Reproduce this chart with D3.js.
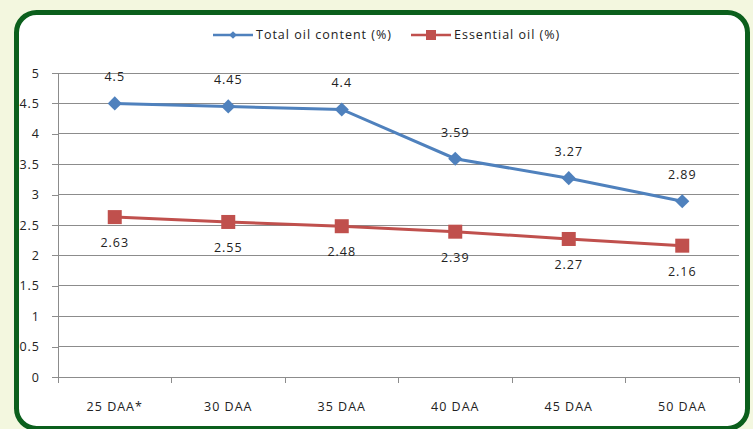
<!DOCTYPE html>
<html>
<head>
<meta charset="utf-8">
<script src="https://cdn.jsdelivr.net/npm/d3@7"></script>
<style>
  html, body { margin: 0; padding: 0; background: #f3f7df; }
  svg { display: block; font-family: "Open Sans", "Liberation Sans", sans-serif; }
  svg text { font-size: 12.5px; letter-spacing: 1px; fill: #222; }
</style>
</head>
<body>
<svg id="chart" width="753" height="429"></svg>
<script>
// Oil content by days after anthesis
const categories = ["25 DAA*", "30 DAA", "35 DAA", "40 DAA", "45 DAA", "50 DAA"];
const totalOil = [4.5, 4.45, 4.4, 3.59, 3.27, 2.89];
const essentialOil = [2.63, 2.55, 2.48, 2.39, 2.27, 2.16];
const yTicks = [0, 0.5, 1, 1.5, 2, 2.5, 3, 3.5, 4, 4.5, 5];
const seriesNames = ["Total oil content (%)", "Essential oil (%)"];

const svg = d3.select("#chart");

// card with rounded green border
svg.append("rect")
  .attr("x", 16.5).attr("y", 12.5)
  .attr("width", 731).attr("height", 416)
  .attr("rx", 20).attr("ry", 20)
  .attr("fill", "#ffffff")
  .attr("stroke", "#0b5f1c")
  .attr("stroke-width", 5);

const plot = { left: 58, right: 739, top: 73, bottom: 377 };

const x = d3.scaleBand().domain(categories).range([plot.left, plot.right]);
const y = d3.scaleLinear().domain([0, 5]).range([plot.bottom, plot.top]);
const cx = d => x(d) + x.bandwidth() / 2;
const grey = "#8c8c8c";

// horizontal gridlines
svg.append("g")
  .selectAll("line")
  .data(yTicks.filter(t => t > 0))
  .join("line")
  .attr("x1", plot.left).attr("x2", plot.right)
  .attr("y1", d => y(d)).attr("y2", d => y(d))
  .attr("stroke", grey).attr("stroke-width", 1)
  .attr("shape-rendering", "crispEdges");

// y axis
const yAxis = svg.append("g")
  .attr("transform", `translate(${plot.left},0)`)
  .call(d3.axisLeft(y).tickValues(yTicks).tickSize(6).tickPadding(12).tickFormat(d3.format("")));
yAxis.select(".domain").attr("stroke", grey);
yAxis.selectAll(".tick line").attr("stroke", grey);
yAxis.selectAll(".tick text").attr("font-size", null).attr("font-family", null);
yAxis.attr("shape-rendering", "crispEdges").attr("font-size", null).attr("font-family", null);

// x axis with ticks at band boundaries
const xAxisG = svg.append("g").attr("transform", `translate(0,${plot.bottom})`);
xAxisG.append("line")
  .attr("x1", plot.left).attr("x2", plot.right)
  .attr("y1", 0).attr("y2", 0)
  .attr("stroke", grey).attr("shape-rendering", "crispEdges");
const bounds = categories.map(c => x(c)).concat([plot.right]);
xAxisG.selectAll("line.tk")
  .data(bounds)
  .join("line")
  .attr("class", "tk")
  .attr("x1", d => d).attr("x2", d => d)
  .attr("y1", 0).attr("y2", 6)
  .attr("stroke", grey).attr("shape-rendering", "crispEdges");
xAxisG.selectAll("text")
  .data(categories)
  .join("text")
  .attr("x", d => cx(d))
  .attr("y", 34)
  .attr("text-anchor", "middle")
  .text(d => d);

const blue = "#4f81bd", red = "#c0504d";
const line = d3.line().x((d, i) => cx(categories[i])).y(d => y(d));
const diamond = d3.symbol(d3.symbolSquare, 100);

// total oil series
svg.append("path").datum(totalOil)
  .attr("d", line).attr("fill", "none")
  .attr("stroke", blue).attr("stroke-width", 3);
svg.append("g").selectAll("path")
  .data(totalOil)
  .join("path")
  .attr("d", diamond)
  .attr("transform", (d, i) => `translate(${cx(categories[i])},${y(d)}) rotate(45)`)
  .attr("fill", blue);

// essential oil series
svg.append("path").datum(essentialOil)
  .attr("d", line).attr("fill", "none")
  .attr("stroke", red).attr("stroke-width", 3);
svg.append("g").selectAll("rect")
  .data(essentialOil)
  .join("rect")
  .attr("x", (d, i) => cx(categories[i]) - 7)
  .attr("y", d => y(d) - 7)
  .attr("width", 14).attr("height", 14)
  .attr("fill", red);

// value labels
svg.append("g").selectAll("text")
  .data(totalOil)
  .join("text")
  .attr("x", (d, i) => cx(categories[i]))
  .attr("y", d => y(d) - 22)
  .attr("text-anchor", "middle")
  .text(d => d);
svg.append("g").selectAll("text")
  .data(essentialOil)
  .join("text")
  .attr("x", (d, i) => cx(categories[i]))
  .attr("y", d => y(d) + 30)
  .attr("text-anchor", "middle")
  .text(d => d);

// legend
const legend = svg.append("g");
const legendItems = [
  { name: seriesNames[0], color: blue, x: 213, shape: "diamond" },
  { name: seriesNames[1], color: red, x: 411, shape: "square" }
];
const ly = 35;
legendItems.forEach(it => {
  legend.append("line")
    .attr("x1", it.x).attr("x2", it.x + 40)
    .attr("y1", ly).attr("y2", ly)
    .attr("stroke", it.color).attr("stroke-width", 2.5);
  if (it.shape === "diamond") {
    legend.append("path")
      .attr("d", d3.symbol(d3.symbolSquare, 30))
      .attr("transform", `translate(${it.x + 20},${ly}) rotate(45)`)
      .attr("fill", it.color);
  } else {
    legend.append("rect")
      .attr("x", it.x + 15).attr("y", ly - 5)
      .attr("width", 10).attr("height", 10)
      .attr("fill", it.color);
  }
  legend.append("text")
    .attr("x", it.x + 43).attr("y", ly + 4)
    .text(it.name);
});
</script>
</body>
</html>
